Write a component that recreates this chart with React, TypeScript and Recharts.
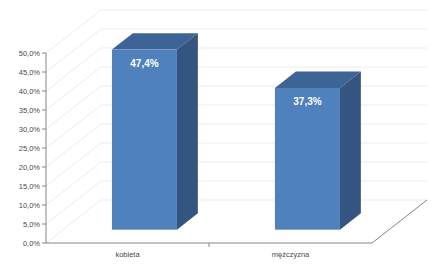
import React from "react";
import { Bar, BarChart, CartesianGrid, LabelList, XAxis, YAxis } from "recharts";

const categories = ["kobieta", "mężczyzna"];
const shares = [0.474, 0.373];
const yTicks = [0, 0.05, 0.1, 0.15, 0.2, 0.25, 0.3, 0.35, 0.4, 0.45, 0.5];

const data = categories.map((name, i) => ({ name, value: shares[i] }));

// depth of the 3D box (back wall offset from the front plane)
const DX = 55;
const DY = -43;
// bars sit between these depth fractions
const BAR_FRONT = 0.31;
const BAR_BACK = 0.69;

const PLOT_LEFT = 46;
const PLOT_RIGHT = 372;
const HALF_BAND = (PLOT_RIGHT - PLOT_LEFT) / categories.length / 2;

const axisColor = "#868686";
const gridColor = "#ececec";
const textColor = "#4a4a4a";
const font = "'Liberation Sans', Arial, sans-serif";

const pct = (v: number) => (v * 100).toFixed(1).replace(".", ",") + "%";

function Box3D(props: any) {
  const { x, y, width, height } = props;
  const fx = x + DX * BAR_FRONT;
  const fy = y + DY * BAR_FRONT;
  const bx = DX * (BAR_BACK - BAR_FRONT);
  const by = DY * (BAR_BACK - BAR_FRONT);
  const top = `${fx},${fy} ${fx + bx},${fy + by} ${fx + width + bx},${fy + by} ${fx + width},${fy}`;
  const side = `${fx + width},${fy} ${fx + width + bx},${fy + by} ${fx + width + bx},${fy + height + by} ${fx + width},${fy + height}`;
  return (
    <g>
      <polygon points={top} fill="#3c6496" />
      <polygon points={side} fill="#34557f" />
      <rect x={fx} y={fy} width={width} height={height} fill="#4f81bd" />
    </g>
  );
}

function GridLine(props: any) {
  const { x1, y1, x2, index } = props;
  const isFloor = index === 0;
  return (
    <g key={`grid-${index}`}>
      <polyline
        points={`${x1},${y1} ${x1 + DX},${y1 + DY} ${x2 + DX},${y1 + DY}`}
        fill="none"
        stroke={gridColor}
        strokeWidth={1}
      />
      {isFloor && (
        <line x1={x2} y1={y1} x2={x2 + DX} y2={y1 + DY} stroke={axisColor} strokeWidth={1} />
      )}
    </g>
  );
}

function CategoryTick(props: any) {
  const { x, y, payload, index } = props;
  return (
    <g>
      {index < categories.length - 1 && (
        <line x1={x + HALF_BAND} y1={243} x2={x + HALF_BAND} y2={247} stroke={axisColor} />
      )}
      <text x={x} y={y + 12} textAnchor="middle" fontSize={7.5} fill={textColor} fontFamily={font}>
        {payload.value}
      </text>
    </g>
  );
}

function ValueLabel(props: any) {
  const { x, y, width, value } = props;
  return (
    <text
      x={x + width / 2 + DX * BAR_FRONT}
      y={y + DY * BAR_FRONT + 17}
      textAnchor="middle"
      fontSize={10}
      fontWeight="bold"
      fill="#ffffff"
      fontFamily={font}
    >
      {pct(value)}
    </text>
  );
}

export default function App() {
  return (
    <div style={{ position: "absolute", left: 0, top: 0, background: "#fff" }}>
      <BarChart
        width={448}
        height={269}
        data={data}
        margin={{ top: 53, right: 448 - PLOT_RIGHT, bottom: 0, left: 0 }}
        barCategoryGap="30%"
      >
        <CartesianGrid horizontal={GridLine} vertical={false} />
        <XAxis
          dataKey="name"
          height={26}
          axisLine={{ stroke: axisColor }}
          tickLine={false}
          tickSize={0}
          tick={CategoryTick}
          interval={0}
        />
        <YAxis
          width={PLOT_LEFT}
          domain={[0, 0.5]}
          ticks={yTicks}
          interval={0}
          tickFormatter={pct}
          axisLine={{ stroke: axisColor }}
          tickLine={{ stroke: axisColor }}
          tickSize={4}
          tick={{ fontSize: 7.5, fill: textColor, fontFamily: font }}
        />
        <Bar dataKey="value" shape={Box3D} isAnimationActive={false}>
          <LabelList dataKey="value" content={ValueLabel} />
        </Bar>
      </BarChart>
    </div>
  );
}
